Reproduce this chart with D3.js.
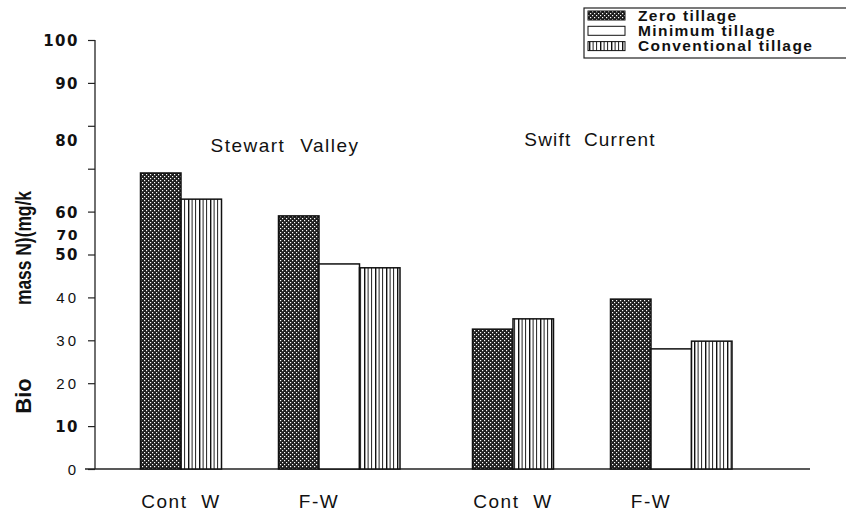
<!DOCTYPE html>
<html>
<head>
<meta charset="utf-8">
<script src="https://cdnjs.cloudflare.com/ajax/libs/d3/7.8.5/d3.min.js"></script>
<style>
  body { margin: 0; background: #fff; }
  svg { display: block; font-family: "Liberation Sans", Arial, sans-serif; }
</style>
</head>
<body>
<div id="chart"></div>
<script>
var sites = ["Stewart Valley", "Swift Current"];
var crops = ["Cont W", "F-W"];
var tillages = ["Zero tillage", "Minimum tillage", "Conventional tillage"];

// one value per site/crop pair, in order SV Cont W, SV F-W, SC Cont W, SC F-W
var zeroTillage = [69.0, 59.0, 32.6, 39.6];
var minimumTillage = [null, 47.8, null, 28.0];
var conventionalTillage = [62.9, 46.9, 35.0, 29.8];

var yTicks = [0, 10, 20, 30, 40, 50, 60, 70, 80, 90, 100];

var width = 846, height = 515;
var baseY = 469, topY = 40, axisX = 95;
var barW = 40.5;

var svg = d3.select("#chart").append("svg")
    .attr("width", width)
    .attr("height", height);

var defs = svg.append("defs");
var dots = defs.append("pattern")
    .attr("id", "dots")
    .attr("patternUnits", "userSpaceOnUse")
    .attr("width", 4).attr("height", 4);
dots.append("rect").attr("width", 4).attr("height", 4).attr("fill", "#1e1e1e");
dots.append("rect").attr("x", 0).attr("y", 0).attr("width", 1.2).attr("height", 1.2).attr("fill", "#fff");
dots.append("rect").attr("x", 2).attr("y", 2).attr("width", 1.2).attr("height", 1.2).attr("fill", "#fff");

var stripes = defs.append("pattern")
    .attr("id", "stripes")
    .attr("patternUnits", "userSpaceOnUse")
    .attr("width", 11).attr("height", 10);
stripes.append("rect").attr("width", 11).attr("height", 10).attr("fill", "#fff");
stripes.append("rect").attr("x", 1).attr("width", 1.4).attr("height", 10).attr("fill", "#111");
stripes.append("rect").attr("x", 4.6).attr("width", 1).attr("height", 10).attr("fill", "#222");
stripes.append("rect").attr("x", 8).attr("width", 1.1).attr("height", 10).attr("fill", "#333");

var fills = {
  "Zero tillage": "url(#dots)",
  "Minimum tillage": "#fff",
  "Conventional tillage": "url(#stripes)"
};

var y = d3.scaleLinear().domain([0, 100]).range([baseY, topY]);
var siteX = d3.scalePoint().domain(sites).range([250, 582]);
var cropX = d3.scalePoint().domain(crops).range([-69, 69]);

// build bar records: present series are placed side by side from the category centre
var bars = [];
var catLabels = [];
sites.forEach(function(site, i) {
  crops.forEach(function(crop, j) {
    var k = i * crops.length + j;
    var centre = siteX(site) + cropX(crop);
    catLabels.push({ label: crop, x: centre });
    var vals = [zeroTillage[k], minimumTillage[k], conventionalTillage[k]];
    var slot = 0;
    vals.forEach(function(v, s) {
      if (v == null) return;
      bars.push({ series: tillages[s], value: v, x: centre - barW + slot * barW });
      slot++;
    });
  });
});

function lightTick(d) { return d == 0 || d == 20 || d == 30 || d == 40; }

// y axis
var yAxis = svg.append("g")
    .attr("transform", "translate(" + axisX + ",0)")
    .call(d3.axisLeft(y).tickValues(yTicks).tickSize(7).tickPadding(9)
      .tickFormat(function(d) { return d == 70 ? "" : d; }));
yAxis.select(".domain").attr("stroke", "#222").attr("stroke-width", 1.3).attr("d", "M0," + topY + "V" + baseY);
yAxis.selectAll(".tick line").attr("stroke", "#222").attr("stroke-width", 1.2);
yAxis.selectAll(".tick text")
    .attr("fill", "#111")
    .style("font-family", function(d) { return lightTick(d) ? "'Liberation Sans', Arial, sans-serif" : "'DejaVu Sans', sans-serif"; })
    .style("font-size", "15px")
    .style("font-weight", function(d) { return lightTick(d) ? "normal" : "bold"; })
    .attr("letter-spacing", function(d) { return lightTick(d) ? "3px" : "1.5px"; })
    .attr("dy", function(d) { return d == 80 ? "1.3em" : "0.36em"; });
// misplaced "70" label as printed in the figure
svg.append("text")
    .attr("x", axisX - 16).attr("y", y(54.6))
    .attr("dy", "0.36em")
    .attr("text-anchor", "end")
    .attr("fill", "#111")
    .style("font-family", "'DejaVu Sans', sans-serif")
    .style("font-size", "14px").style("font-weight", "bold")
    .attr("letter-spacing", "1.5px")
    .text("70");

// x baseline
svg.append("line")
    .attr("x1", axisX - 10).attr("x2", 810)
    .attr("y1", baseY).attr("y2", baseY)
    .attr("stroke", "#222").attr("stroke-width", 1.4);

// bars
svg.append("g").selectAll("rect")
  .data(bars)
  .join("rect")
    .attr("x", function(d) { return d.x; })
    .attr("y", function(d) { return y(d.value); })
    .attr("width", barW)
    .attr("height", function(d) { return baseY - y(d.value); })
    .attr("fill", function(d) { return fills[d.series]; })
    .attr("stroke", "#111")
    .attr("stroke-width", 1.5);

// category labels
svg.append("g").selectAll("text")
  .data(catLabels)
  .join("text")
    .attr("x", function(d) { return d.x; })
    .attr("y", 508)
    .attr("text-anchor", "middle")
    .attr("fill", "#111")
    .style("font-size", "19px")
    .attr("letter-spacing", "1.5px")
    .attr("word-spacing", "7px")
    .text(function(d) { return d.label; });

// site labels
svg.append("text")
    .attr("x", siteX(sites[0]) + 35).attr("y", 152)
    .attr("text-anchor", "middle").attr("fill", "#111")
    .style("font-size", "19px").attr("letter-spacing", "1.5px").attr("word-spacing", "8px")
    .text(sites[0]);
svg.append("text")
    .attr("x", siteX(sites[1]) + 8).attr("y", 146)
    .attr("text-anchor", "middle").attr("fill", "#111")
    .style("font-size", "19px").attr("letter-spacing", "1.2px").attr("word-spacing", "6px")
    .text(sites[1]);

// y axis title (split as printed)
svg.append("text")
    .attr("transform", "translate(31,396) rotate(-90)")
    .attr("text-anchor", "middle").attr("fill", "#111")
    .style("font-family", "'Liberation Sans Narrow', 'Arial Narrow', sans-serif")
    .style("font-size", "22px").style("font-weight", "bold")
    .text("Bio");
svg.append("text")
    .attr("transform", "translate(31,248) rotate(-90)")
    .attr("text-anchor", "middle").attr("fill", "#111")
    .style("font-family", "'Liberation Sans Narrow', 'Arial Narrow', sans-serif")
    .style("font-size", "22px").style("font-weight", "bold")
    .attr("textLength", 114).attr("lengthAdjust", "spacingAndGlyphs")
    .text("mass N)(mg/k");

// legend
var legend = svg.append("g");
legend.append("rect")
    .attr("x", 584).attr("y", 8)
    .attr("width", 280).attr("height", 50)
    .attr("fill", "none").attr("stroke", "#222").attr("stroke-width", 1.2);
var items = legend.selectAll("g.item")
  .data(tillages)
  .join("g")
    .attr("class", "item")
    .attr("transform", function(d, i) { return "translate(588," + (11 + i * 15.3) + ")"; });
items.append("rect")
    .attr("width", 37).attr("height", 9)
    .attr("fill", function(d) { return fills[d]; })
    .attr("stroke", "#111").attr("stroke-width", 1);
items.append("text")
    .attr("x", 50).attr("y", 9.5)
    .attr("fill", "#111")
    .style("font-size", "15.5px").style("font-weight", "bold")
    .attr("letter-spacing", "1.4px")
    .text(function(d) { return d; });
</script>
</body>
</html>
